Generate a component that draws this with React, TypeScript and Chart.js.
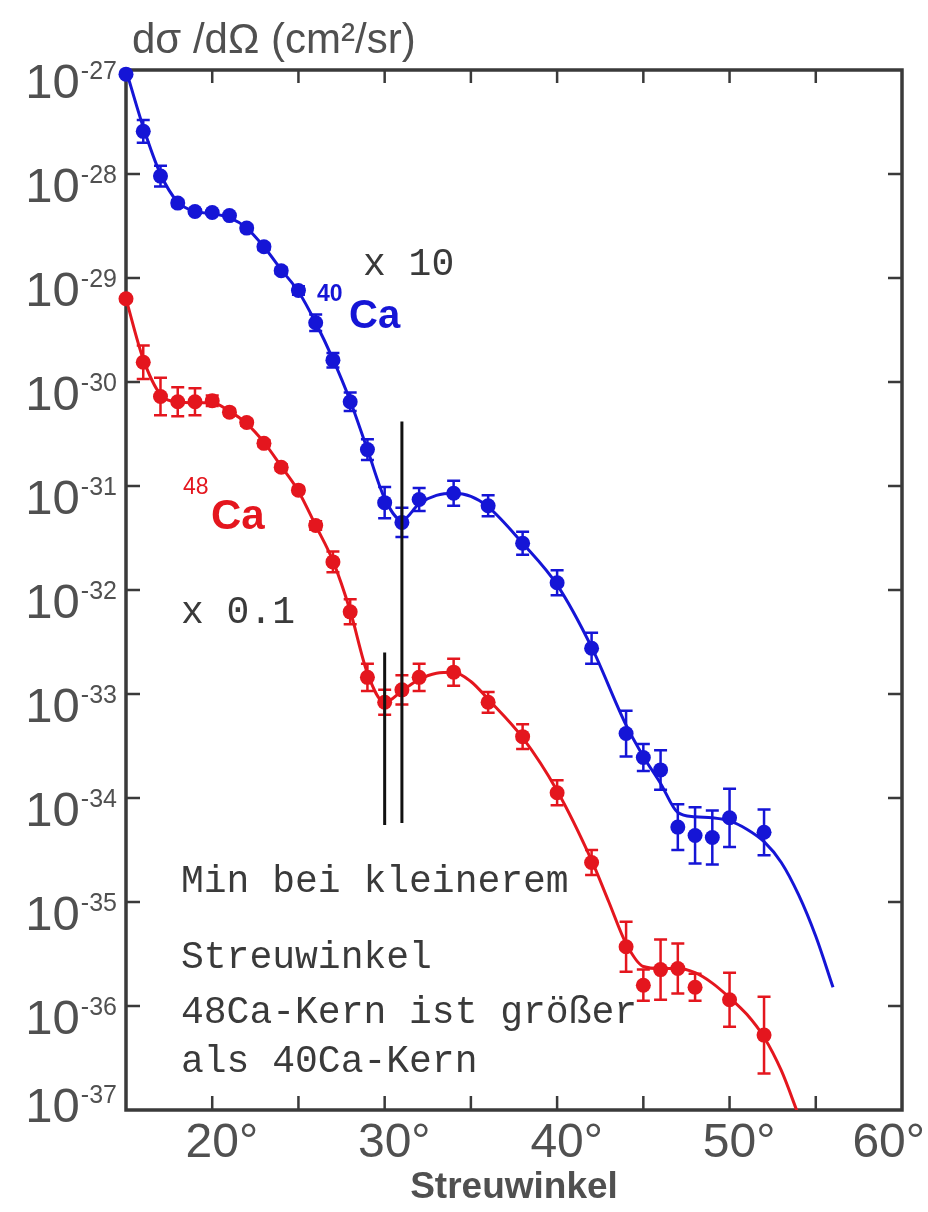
import { useEffect, useRef } from 'react';
import { Chart, registerables } from 'chart.js';

Chart.register(...registerables);

const SANS = '"Liberation Sans", Arial, sans-serif';
const MONO = '"Liberation Mono", "Courier New", monospace';
const BLUE = '#1515d6';
const RED = '#e4161e';
const AXIS = '#3a3a3a';
const LABEL = '#505050';

// 40Ca (x10) measured points: angle (deg), log10(dσ/dΩ), log10 error half-width
const blueAngles = [15, 16, 17, 18, 19, 20, 21, 22, 23, 24, 25, 26, 27, 28, 29, 30, 31, 32, 34, 36, 38, 40, 42, 44, 45, 46, 47, 48, 49, 50, 52];
const blueLogSigma = [-27.04, -27.59, -28.02, -28.28, -28.36, -28.37, -28.4, -28.52, -28.7, -28.93, -29.12, -29.43, -29.79, -30.19, -30.65, -31.16, -31.35, -31.13, -31.07, -31.19, -31.55, -31.93, -32.56, -33.38, -33.61, -33.73, -34.28, -34.36, -34.38, -34.19, -34.33];
const blueLogErr = [0, 0.11, 0.1, 0.03, 0.02, 0.02, 0.02, 0.03, 0.03, 0.03, 0.04, 0.08, 0.07, 0.09, 0.1, 0.15, 0.14, 0.11, 0.12, 0.1, 0.11, 0.12, 0.15, 0.22, 0.13, 0.19, 0.22, 0.27, 0.26, 0.28, 0.22];

// 48Ca (x0.1) measured points
const redAngles = [15, 16, 17, 18, 19, 20, 21, 22, 23, 24, 25, 26, 27, 28, 29, 30, 31, 32, 34, 36, 38, 40, 42, 44, 45, 46, 47, 48, 50, 52];
const redLogSigma = [-29.2, -29.81, -30.14, -30.19, -30.19, -30.18, -30.29, -30.39, -30.59, -30.82, -31.04, -31.38, -31.73, -32.21, -32.84, -33.08, -32.96, -32.84, -32.79, -33.08, -33.41, -33.95, -34.62, -35.43, -35.8, -35.65, -35.64, -35.82, -35.94, -36.28];
const redLogErr = [0, 0.16, 0.18, 0.14, 0.13, 0.05, 0.03, 0.03, 0.03, 0.03, 0.03, 0.04, 0.1, 0.12, 0.13, 0.12, 0.14, 0.13, 0.13, 0.1, 0.12, 0.12, 0.12, 0.24, 0.15, 0.29, 0.24, 0.13, 0.26, 0.37];

// fitted curves
const blueCurveAngles = [15, 16, 17, 18, 19, 20, 21, 22, 23, 24, 25, 26, 27, 28, 29, 30, 31, 32, 33, 34, 35, 36, 38, 40, 42, 44, 45, 46, 47, 48, 49, 50, 51, 52, 53, 54, 55, 56];
const blueCurveLog = [-27.0, -27.55, -28.0, -28.27, -28.36, -28.38, -28.42, -28.52, -28.7, -28.92, -29.13, -29.43, -29.78, -30.18, -30.65, -31.12, -31.33, -31.17, -31.09, -31.07, -31.1, -31.2, -31.55, -31.95, -32.55, -33.3, -33.6, -33.86, -34.14, -34.18, -34.19, -34.22, -34.3, -34.42, -34.62, -34.93, -35.33, -35.82];
const redCurveAngles = [15, 16, 17, 18, 19, 20, 21, 22, 23, 24, 25, 26, 27, 28, 29, 30, 31, 32, 33, 34, 35, 36, 38, 40, 42, 43, 44, 45, 46, 47, 48, 49, 50, 51, 52, 53, 54];
const redCurveLog = [-29.2, -29.78, -30.12, -30.19, -30.2, -30.2, -30.28, -30.4, -30.58, -30.81, -31.05, -31.38, -31.72, -32.2, -32.8, -33.08, -32.97, -32.86, -32.8, -32.79, -32.88, -33.05, -33.42, -33.93, -34.6, -35.0, -35.4, -35.62, -35.64, -35.64, -35.68, -35.78, -35.92, -36.08, -36.3, -36.62, -37.05];

// axes
const xMin = 15;
const xMax = 60;
const xMinorTicks = [20, 25, 30, 35, 40, 45, 50, 55];
const xLabelTicks = [20, 30, 40, 50, 60];
const yExponents = [-27, -28, -29, -30, -31, -32, -33, -34, -35, -36, -37];

// vertical marker lines at the minima
const minLineAngles = [31, 30];
const minLineTopLog = [-30.38, -32.6];
const minLineBottomLog = [-34.24, -34.26];

const titleText = 'dσ /dΩ (cm²/sr)';
const xTitleText = 'Streuwinkel';
const noteLines = ['Min bei kleinerem', 'Streuwinkel', '48Ca-Kern ist größer', 'als 40Ca-Kern'];

const decor = {
  id: 'decor',
  beforeDatasetsDraw(chart: any) {
    const { ctx, chartArea: a, scales } = chart;
    const x = scales.x;
    const y = scales.y;
    ctx.save();
    // frame
    ctx.strokeStyle = AXIS;
    ctx.lineWidth = 3.5;
    ctx.strokeRect(a.left, a.top, a.right - a.left, a.bottom - a.top);
    // inward ticks
    ctx.lineWidth = 2.5;
    ctx.beginPath();
    for (const v of xMinorTicks) {
      const px = x.getPixelForValue(v);
      ctx.moveTo(px, a.bottom);
      ctx.lineTo(px, a.bottom - 14);
      ctx.moveTo(px, a.top);
      ctx.lineTo(px, a.top + 13);
    }
    for (const e of yExponents) {
      if (e === -27 || e === -37) continue;
      const py = y.getPixelForValue(Math.pow(10, e));
      ctx.moveTo(a.left, py);
      ctx.lineTo(a.left + 14, py);
      ctx.moveTo(a.right, py);
      ctx.lineTo(a.right - 14, py);
    }
    ctx.stroke();
    // error bars
    const drawErr = (xs: number[], ls: number[], es: number[], color: string) => {
      ctx.strokeStyle = color;
      ctx.lineWidth = 2.5;
      ctx.beginPath();
      xs.forEach((ang, i) => {
        if (es[i] <= 0) return;
        const px = x.getPixelForValue(ang);
        const pLo = y.getPixelForValue(Math.pow(10, ls[i] - es[i]));
        const pHi = y.getPixelForValue(Math.pow(10, ls[i] + es[i]));
        ctx.moveTo(px, pLo);
        ctx.lineTo(px, pHi);
        ctx.moveTo(px - 6.5, pLo);
        ctx.lineTo(px + 6.5, pLo);
        ctx.moveTo(px - 6.5, pHi);
        ctx.lineTo(px + 6.5, pHi);
      });
      ctx.stroke();
    };
    drawErr(blueAngles, blueLogSigma, blueLogErr, BLUE);
    drawErr(redAngles, redLogSigma, redLogErr, RED);
    ctx.restore();
  },
  afterDatasetsDraw(chart: any) {
    const { ctx, chartArea: a, scales } = chart;
    const x = scales.x;
    const y = scales.y;
    ctx.save();
    // black marker lines
    ctx.strokeStyle = '#111';
    ctx.lineWidth = 3;
    ctx.beginPath();
    minLineAngles.forEach((ang, i) => {
      const px = x.getPixelForValue(ang);
      ctx.moveTo(px, y.getPixelForValue(Math.pow(10, minLineTopLog[i])));
      ctx.lineTo(px, y.getPixelForValue(Math.pow(10, minLineBottomLog[i])));
    });
    ctx.stroke();

    // y tick labels 10^n
    ctx.fillStyle = LABEL;
    ctx.textBaseline = 'alphabetic';
    ctx.textAlign = 'right';
    for (const e of yExponents) {
      let py = y.getPixelForValue(Math.pow(10, e));
      if (e === -37) py -= 16;
      const expStr = String(e);
      ctx.font = `25px ${SANS}`;
      ctx.fillText(expStr, 117, py + 9);
      const w = ctx.measureText(expStr).width;
      ctx.font = `49px ${SANS}`;
      ctx.fillText('10', 117 - w - 1, py + 28);
    }
    // x tick labels
    ctx.textAlign = 'left';
    ctx.font = `48px ${SANS}`;
    for (const v of xLabelTicks) {
      const px = x.getPixelForValue(v);
      const num = String(v);
      const full = num + '°';
      const wn = ctx.measureText(num).width;
      const wf = ctx.measureText(full).width;
      let left = px - wn / 2;
      if (left + wf > chart.width - 3) left = chart.width - 3 - wf;
      ctx.fillText(full, left, 1157);
    }
    // x title
    ctx.textAlign = 'center';
    ctx.font = `bold 37px ${SANS}`;
    ctx.fillText(xTitleText, (a.left + a.right) / 2, 1198);
    // y title
    ctx.textAlign = 'left';
    ctx.font = `42px ${SANS}`;
    ctx.fillText(titleText, 132, 53);

    // notes (monospace)
    ctx.fillStyle = '#3a3a3a';
    ctx.font = `38px ${MONO}`;
    ctx.fillText('x 10', 363, 275);
    ctx.fillText('x 0.1', 181, 623);
    const noteY = [892, 968, 1023, 1072];
    noteLines.forEach((t, i) => ctx.fillText(t, 181, noteY[i]));

    // isotope labels
    ctx.fillStyle = BLUE;
    ctx.font = `bold 23px ${SANS}`;
    ctx.fillText('40', 317, 301);
    ctx.font = `bold 40px ${SANS}`;
    ctx.fillText('Ca', 349, 328);
    ctx.fillStyle = RED;
    ctx.font = `23px ${SANS}`;
    ctx.fillText('48', 183, 494);
    ctx.font = `bold 42px ${SANS}`;
    ctx.fillText('Ca', 211, 529);
    ctx.restore();
  },
};

export default function App() {
  const ref = useRef<HTMLCanvasElement>(null);
  useEffect(() => {
    const canvas = ref.current;
    if (!canvas) return;
    const toPts = (xs: number[], ls: number[]) => xs.map((a, i) => ({ x: a, y: Math.pow(10, ls[i]) }));
    const chart = new Chart(canvas, {
      type: 'scatter',
      data: {
        datasets: [
          {
            label: '40Ca data',
            data: toPts(blueAngles, blueLogSigma),
            backgroundColor: BLUE,
            borderColor: BLUE,
            pointRadius: 7.5,
            pointBorderWidth: 0,
            showLine: false,
            clip: false,
          },
          {
            label: '48Ca data',
            data: toPts(redAngles, redLogSigma),
            backgroundColor: RED,
            borderColor: RED,
            pointRadius: 7.5,
            pointBorderWidth: 0,
            showLine: false,
            clip: false,
          },
          {
            label: '40Ca fit',
            data: toPts(blueCurveAngles, blueCurveLog),
            showLine: true,
            pointRadius: 0,
            borderColor: BLUE,
            borderWidth: 3,
            cubicInterpolationMode: 'monotone',
            fill: false,
          },
          {
            label: '48Ca fit',
            data: toPts(redCurveAngles, redCurveLog),
            showLine: true,
            pointRadius: 0,
            borderColor: RED,
            borderWidth: 3,
            cubicInterpolationMode: 'monotone',
            fill: false,
          },
        ],
      } as any,
      options: {
        responsive: false,
        animation: false,
        devicePixelRatio: 1,
        events: [],
        layout: { padding: { left: 126, right: 26, top: 70, bottom: 102 } },
        scales: {
          x: { type: 'linear', min: xMin, max: xMax, display: false },
          y: { type: 'logarithmic', min: Math.pow(10, yExponents[yExponents.length - 1]), max: Math.pow(10, yExponents[0]), display: false },
        },
        plugins: { legend: { display: false }, tooltip: { enabled: false } },
      } as any,
      plugins: [decor],
    });
    return () => chart.destroy();
  }, []);
  return (
    <div style={{ position: 'absolute', left: 0, top: 0, width: 928, height: 1212, background: '#fff' }}>
      <canvas ref={ref} width={928} height={1212} style={{ display: 'block' }} />
    </div>
  );
}
